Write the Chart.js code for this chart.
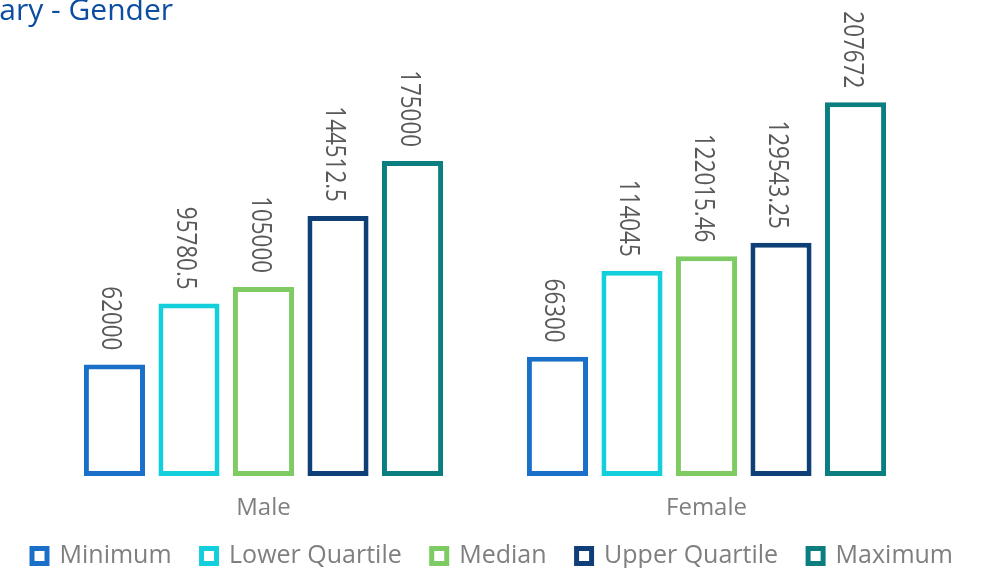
<!DOCTYPE html>
<html>
<head>
<meta charset="utf-8">
<script src="https://cdn.jsdelivr.net/npm/chart.js@4/dist/chart.umd.min.js"></script>
<style>
  html, body { margin: 0; padding: 0; background: #fff; overflow: hidden; }
  #wrap { position: relative; width: 985px; height: 568px; }
</style>
</head>
<body>
<div id="wrap"><canvas id="chartSalary"></canvas></div>
<script>
// categorias e séries
const categorias = ['Male', 'Female'];
const series = ['Minimum', 'Lower Quartile', 'Median', 'Upper Quartile', 'Maximum'];
const minimo = [62000, 66300];
const quartilInferior = [95780.5, 114045];
const mediana = [105000, 122015.46];
const quartilSuperior = [144512.5, 129543.25];
const maximo = [175000, 207672];
const cores = ['#1a6fc8', '#13cfdb', '#7dcb62', '#0e3f77', '#0b7f80'];

const valores = [minimo, quartilInferior, mediana, quartilSuperior, maximo];

// título (cortado à esquerda, como no painel original)
const tituloPlugin = {
  id: 'titulo',
  afterDraw(chart) {
    const ctx = chart.ctx;
    ctx.save();
    ctx.font = '30px "Open Sans"';
    ctx.fillStyle = '#0c4da2';
    ctx.textAlign = 'right';
    ctx.textBaseline = 'alphabetic';
    ctx.fillText('Salary - Gender', 173, 20);
    ctx.restore();
  }
};

// rótulos verticais acima de cada barra
const rotulosPlugin = {
  id: 'rotulos',
  afterDatasetsDraw(chart) {
    const ctx = chart.ctx;
    ctx.save();
    ctx.font = '28px "Open Sans"';
    ctx.fillStyle = '#595959';
    ctx.textAlign = 'right';
    ctx.textBaseline = 'alphabetic';
    chart.data.datasets.forEach((ds, i) => {
      chart.getDatasetMeta(i).data.forEach((bar, j) => {
        ctx.save();
        ctx.translate(bar.x, bar.y - 14);
        ctx.rotate(Math.PI / 2);
        ctx.scale(0.8, 1);
        ctx.fillText(String(ds.data[j]), 0, 12);
        ctx.restore();
      });
    });
    ctx.restore();
  }
};

// o eixo x fica baixo no layout, mas os nomes das categorias descem um pouco
// além dele; estende a área de recorte dos rótulos
const eixoXPlugin = {
  id: 'eixoX',
  afterLayout(chart) {
    chart.scales.x.bottom = chart.scales.x.top + 70;
  }
};

// eixos invisíveis só para reservar as margens laterais
const margem = (largura) => ({
  display: true,
  grid: { display: false, drawTicks: false },
  border: { display: false },
  ticks: { display: false },
  afterFit(scale) { scale.width = largura; }
});

new Chart(document.getElementById('chartSalary'), {
  type: 'bar',
  data: {
    labels: categorias,
    datasets: series.map((nome, i) => ({
      label: nome,
      data: valores[i],
      backgroundColor: '#ffffff',
      borderColor: cores[i],
      borderWidth: 5,
      borderSkipped: false,
      categoryPercentage: 0.841,
      barPercentage: 0.82
    }))
  },
  options: {
    responsive: true,
    maintainAspectRatio: false,
    animation: false,
    layout: { padding: { left: 0, right: 0, top: 26, bottom: -10.5 } },
    scales: {
      x: {
        grid: { display: false, drawTicks: false },
        border: { display: false },
        ticks: { color: '#7f7f7f', font: { family: 'Open Sans', size: 24 }, padding: 17.6 },
        afterFit(scale) { scale.height = 37.5; }
      },
      y: Object.assign(margem(42), { min: 0, max: 250000 }),
      yDir: Object.assign(margem(57), { position: 'right' })
    },
    plugins: {
      legend: {
        position: 'bottom',
        labels: {
          color: '#7f7f7f',
          font: { family: 'Open Sans', size: 25 },
          boxWidth: 15,
          boxHeight: 15,
          padding: 30
        }
      },
      tooltip: { enabled: false }
    }
  },
  plugins: [tituloPlugin, rotulosPlugin, eixoXPlugin]
});
</script>
</body>
</html>
